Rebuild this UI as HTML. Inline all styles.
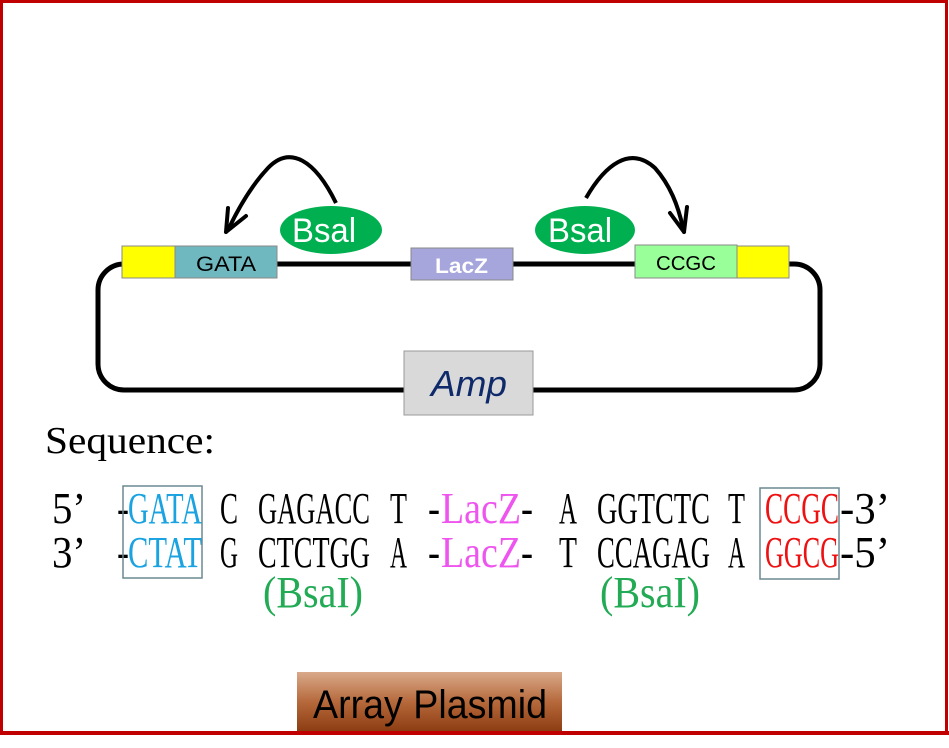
<!DOCTYPE html>
<html><head><style>
html,body{margin:0;padding:0;background:#fff;}
svg{display:block;}
</style></head><body>
<svg width="949" height="748" viewBox="0 0 949 748" xmlns="http://www.w3.org/2000/svg">
<defs>
<linearGradient id="g" x1="0" y1="0" x2="0" y2="1">
<stop offset="0" stop-color="#d9a98a"/><stop offset="0.5" stop-color="#b5683a"/><stop offset="1" stop-color="#8a3a10"/>
</linearGradient>
</defs>
<rect x="1.5" y="1.5" width="945" height="731" fill="#fff" stroke="#c00000" stroke-width="3"/>
<rect x="98" y="264" width="722" height="126" rx="26" fill="none" stroke="#000" stroke-width="5"/>
<rect x="122" y="246" width="54" height="32" fill="#ffff00" stroke="#888" stroke-width="1"/>
<rect x="175" y="246" width="102" height="32" fill="#70b8c0" stroke="#888" stroke-width="1"/>
<text x="196" y="271" font-family="Liberation Sans" font-size="21" textLength="60" lengthAdjust="spacingAndGlyphs">GATA</text>
<rect x="411" y="248" width="102" height="32" fill="#a6a6dd" stroke="#888" stroke-width="1"/>
<text x="435" y="273" font-family="Liberation Sans" font-size="21" font-weight="bold" fill="#fff" textLength="53" lengthAdjust="spacingAndGlyphs">LacZ</text>
<rect x="635" y="245" width="102" height="33" fill="#99ff99" stroke="#888" stroke-width="1"/>
<text x="656" y="270" font-family="Liberation Sans" font-size="20" textLength="60" lengthAdjust="spacingAndGlyphs">CCGC</text>
<rect x="737" y="246" width="52" height="32" fill="#ffff00" stroke="#888" stroke-width="1"/>
<rect x="404" y="351" width="129" height="64" fill="#d9d9d9" stroke="#999" stroke-width="1"/>
<text x="431" y="396" font-family="Liberation Sans" font-size="36" font-style="italic" fill="#0f2a6a" textLength="76" lengthAdjust="spacingAndGlyphs">Amp</text>
<ellipse cx="331" cy="230" rx="51" ry="24" fill="#00b050"/>
<text x="292" y="242" font-family="Liberation Sans" font-size="34" fill="#fff" textLength="64" lengthAdjust="spacingAndGlyphs">Bsal</text>
<ellipse cx="585" cy="230" rx="50" ry="24" fill="#00b050"/>
<text x="548" y="242" font-family="Liberation Sans" font-size="34" fill="#fff" textLength="64" lengthAdjust="spacingAndGlyphs">Bsal</text>
<path d="M336 203 C315 160 290 145 268 168 C252 185 240 205 229 228" fill="none" stroke="#000" stroke-width="4"/>
<path d="M226 232 L228 208 M226 232 L246 216" fill="none" stroke="#000" stroke-width="4" stroke-linecap="round"/>
<path d="M586 198 C605 165 630 145 655 168 C670 185 678 205 683 228" fill="none" stroke="#000" stroke-width="4"/>
<path d="M684 232 L670 213 M684 232 L687 207" fill="none" stroke="#000" stroke-width="4" stroke-linecap="round"/>
<text x="45" y="453" font-family="Liberation Serif" font-size="38" textLength="170" lengthAdjust="spacingAndGlyphs">Sequence:</text>
<g font-family="Liberation Serif" font-size="44" lengthAdjust="spacingAndGlyphs">
<text x="52" y="523" textLength="34" lengthAdjust="spacingAndGlyphs">5’</text>
<text x="117" y="523" textLength="12" lengthAdjust="spacingAndGlyphs">-</text>
<text x="128" y="523" fill="#1aa3e0" textLength="74" lengthAdjust="spacingAndGlyphs">GATA</text>
<text x="220" y="523" textLength="18" lengthAdjust="spacingAndGlyphs">C</text>
<text x="258" y="523" textLength="112" lengthAdjust="spacingAndGlyphs">GAGACC</text>
<text x="390" y="523" textLength="17" lengthAdjust="spacingAndGlyphs">T</text>
<text x="428" y="523" textLength="12" lengthAdjust="spacingAndGlyphs">-</text>
<text x="441" y="523" fill="#ee55ee" textLength="80" lengthAdjust="spacingAndGlyphs">LacZ</text>
<text x="521" y="523" textLength="12" lengthAdjust="spacingAndGlyphs">-</text>
<text x="559" y="523" textLength="18" lengthAdjust="spacingAndGlyphs">A</text>
<text x="597" y="523" textLength="113" lengthAdjust="spacingAndGlyphs">GGTCTC</text>
<text x="728" y="523" textLength="17" lengthAdjust="spacingAndGlyphs">T</text>
<text x="765" y="523" fill="#ee1111" textLength="74" lengthAdjust="spacingAndGlyphs">CCGC</text>
<text x="840" y="523" textLength="50" lengthAdjust="spacingAndGlyphs">-3’</text>

<text x="52" y="567" textLength="34" lengthAdjust="spacingAndGlyphs">3’</text>
<text x="117" y="567" textLength="12" lengthAdjust="spacingAndGlyphs">-</text>
<text x="128" y="567" fill="#1aa3e0" textLength="74" lengthAdjust="spacingAndGlyphs">CTAT</text>
<text x="220" y="567" textLength="18" lengthAdjust="spacingAndGlyphs">G</text>
<text x="258" y="567" textLength="112" lengthAdjust="spacingAndGlyphs">CTCTGG</text>
<text x="390" y="567" textLength="17" lengthAdjust="spacingAndGlyphs">A</text>
<text x="428" y="567" textLength="12" lengthAdjust="spacingAndGlyphs">-</text>
<text x="441" y="567" fill="#ee55ee" textLength="80" lengthAdjust="spacingAndGlyphs">LacZ</text>
<text x="521" y="567" textLength="12" lengthAdjust="spacingAndGlyphs">-</text>
<text x="559" y="567" textLength="18" lengthAdjust="spacingAndGlyphs">T</text>
<text x="597" y="567" textLength="113" lengthAdjust="spacingAndGlyphs">CCAGAG</text>
<text x="728" y="567" textLength="17" lengthAdjust="spacingAndGlyphs">A</text>
<text x="765" y="567" fill="#ee1111" textLength="74" lengthAdjust="spacingAndGlyphs">GGCG</text>
<text x="840" y="567" textLength="50" lengthAdjust="spacingAndGlyphs">-5’</text>

<text x="263" y="607" fill="#22aa55" textLength="100" lengthAdjust="spacingAndGlyphs">(BsaI)</text>
<text x="600" y="607" fill="#22aa55" textLength="100" lengthAdjust="spacingAndGlyphs">(BsaI)</text>
</g>
<rect x="123" y="486" width="79" height="92" fill="none" stroke="#6a8a90" stroke-width="1.5"/>
<rect x="760" y="488" width="79" height="91" fill="none" stroke="#6a8a90" stroke-width="1.5"/>
<rect x="297" y="672" width="265" height="61" fill="url(#g)"/>
<text x="313" y="718" font-family="Liberation Sans" font-size="40" textLength="234" lengthAdjust="spacingAndGlyphs">Array Plasmid</text>
<rect x="0" y="731" width="949" height="4" fill="#c00000"/>
</svg>
</body></html>
